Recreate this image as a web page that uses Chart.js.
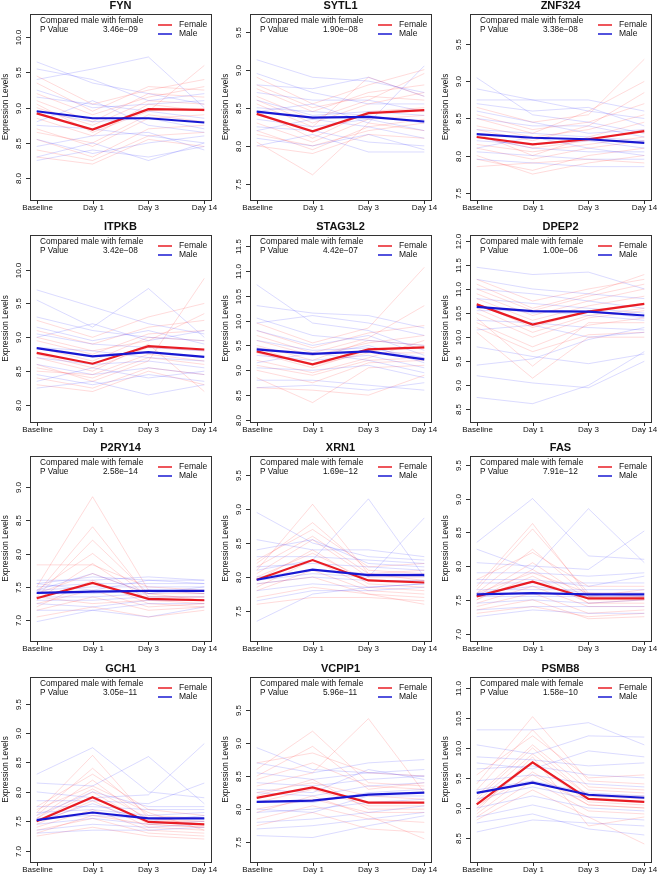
<!DOCTYPE html>
<html>
<head>
<meta charset="utf-8">
<script src="https://cdn.jsdelivr.net/npm/chart.js@4.4.1/dist/chart.umd.min.js"></script>
<style>
  body { margin: 0; background: #fff; width: 660px; height: 878px; position: relative; overflow: hidden; }
  canvas { position: absolute; }
</style>
</head>
<body>
<script>
// ---- data ----
const genes = ['FYN', 'SYTL1', 'ZNF324', 'ITPKB', 'STAG3L2', 'DPEP2', 'P2RY14', 'XRN1', 'FAS', 'GCH1', 'VCPIP1', 'PSMB8'];
const pValues = ['3.46e\u221209', '1.90e\u221208', '3.38e\u221208', '3.42e\u221208', '4.42e\u221207', '1.00e\u221206',
                 '2.58e\u221214', '1.69e\u221212', '7.91e\u221212', '3.05e\u221211', '5.96e\u221211', '1.58e\u221210'];
const dayLabels = ['Baseline', 'Day 1', 'Day 3', 'Day 14'];

const yTicks = [
  [8.0, 8.5, 9.0, 9.5, 10.0],
  [7.5, 8.0, 8.5, 9.0, 9.5],
  [7.5, 8.0, 8.5, 9.0, 9.5],
  [8.0, 8.5, 9.0, 9.5, 10.0],
  [8.0, 8.5, 9.0, 9.5, 10.0, 10.5, 11.0, 11.5],
  [8.5, 9.0, 9.5, 10.0, 10.5, 11.0, 11.5, 12.0],
  [7.0, 7.5, 8.0, 8.5, 9.0],
  [7.5, 8.0, 8.5, 9.0, 9.5],
  [7.0, 7.5, 8.0, 8.5, 9.0, 9.5],
  [7.0, 7.5, 8.0, 8.5, 9.0, 9.5],
  [7.5, 8.0, 8.5, 9.0, 9.5],
  [8.5, 9.0, 9.5, 10.0, 10.5, 11.0]
];
const yRanges = [
  [7.69, 10.33], [7.29, 9.73], [7.40, 9.91],
  [7.75, 10.51], [7.96, 11.72], [8.24, 12.12],
  [6.69, 9.46], [7.06, 9.78], [6.89, 9.63],
  [6.81, 9.95], [7.20, 10.00], [8.10, 11.18]
];

const femaleMean = [
  [8.92, 8.69, 8.98, 8.97], [8.42, 8.19, 8.43, 8.47], [8.25, 8.15, 8.22, 8.33],
  [8.77, 8.61, 8.87, 8.82], [9.38, 9.12, 9.42, 9.46], [10.68, 10.26, 10.53, 10.69],
  [7.33, 7.56, 7.32, 7.30], [7.96, 8.25, 7.95, 7.92], [7.55, 7.77, 7.52, 7.52],
  [7.50, 7.91, 7.49, 7.45], [8.17, 8.33, 8.10, 8.10], [9.06, 9.76, 9.15, 9.10]
];
const maleMean = [
  [8.95, 8.85, 8.85, 8.79], [8.45, 8.37, 8.38, 8.32], [8.29, 8.24, 8.22, 8.17],
  [8.84, 8.72, 8.78, 8.71], [9.42, 9.33, 9.38, 9.22], [10.63, 10.54, 10.53, 10.45],
  [7.41, 7.43, 7.44, 7.44], [7.96, 8.11, 8.03, 8.03], [7.58, 7.60, 7.58, 7.58],
  [7.52, 7.65, 7.55, 7.55], [8.11, 8.13, 8.22, 8.25], [9.25, 9.42, 9.22, 9.17]
];

// individual subjects (a sample of the faint lines)
const femaleLines = [
  [[9.35,8.95,9.30,9.25],[9.10,8.80,9.20,9.15],[8.70,8.45,8.85,8.90],[8.55,8.30,8.70,8.75],[9.20,8.90,9.15,9.30],[8.85,8.60,9.05,8.95],
   [8.40,8.25,8.60,8.65],[9.00,8.75,9.10,9.05],[8.65,8.50,8.90,8.80],[9.45,9.05,9.25,9.40],[8.30,8.20,8.55,8.45],[9.05,8.65,8.95,9.60]],
  [[8.75,8.45,8.70,8.80],[8.60,8.30,8.55,8.70],[8.20,7.95,8.25,8.35],[8.05,7.62,8.30,8.20],[8.90,8.55,8.80,9.00],[8.45,8.10,8.45,8.50],
   [8.30,8.05,8.35,8.40],[8.55,8.25,8.90,8.65],[8.00,7.90,8.15,8.10],[8.65,8.35,8.60,8.95],[8.15,8.00,8.20,8.30],[8.80,8.50,8.65,8.60]],
  [[8.55,8.35,8.45,8.70],[8.40,8.25,8.35,8.55],[8.10,7.95,8.10,8.20],[7.95,7.80,8.00,8.10],[8.65,8.45,8.55,9.30],[8.25,8.10,8.20,8.35],
   [8.00,7.75,7.90,8.00],[8.35,8.20,8.40,8.85],[8.15,8.05,8.15,8.25],[8.50,8.30,8.60,9.00],[7.85,7.90,7.95,7.90],[8.30,8.00,8.25,8.45]],
  [[9.10,8.90,9.15,9.25],[8.95,8.75,9.05,9.10],[8.55,8.40,8.70,8.60],[8.40,8.25,8.55,8.45],[9.25,9.00,9.30,9.50],[8.75,8.55,8.85,8.80],
   [8.60,8.35,8.65,9.87],[8.85,8.65,9.00,8.95],[8.30,8.20,8.50,8.30],[9.00,8.80,8.95,9.35],[8.50,8.45,8.75,8.65],[8.70,8.50,8.90,8.20]],
  [[9.80,9.45,9.75,9.90],[9.60,9.30,9.55,9.70],[9.10,8.90,9.20,9.25],[8.85,8.35,9.05,9.10],[9.95,9.55,9.85,11.07],[9.35,9.05,9.40,9.45],
   [9.20,8.95,9.25,9.60],[9.50,9.20,9.60,9.50],[8.65,8.60,8.50,8.90],[9.70,9.35,9.65,10.30],[9.00,8.75,9.15,9.20],[9.45,9.10,9.35,9.35]],
  [[11.10,10.60,10.90,11.30],[10.90,10.45,10.75,11.00],[10.50,10.00,10.40,10.55],[10.30,9.80,10.25,10.40],[11.20,10.75,11.00,11.20],[10.70,10.20,10.55,10.70],
   [10.40,9.40,10.30,10.30],[10.80,10.35,10.65,10.85],[10.20,9.70,10.05,10.10],[11.00,10.55,10.85,11.10],[10.60,10.10,10.45,10.60],[10.10,9.15,10.00,10.00]],
  [[7.50,8.85,7.45,7.40],[7.40,8.40,7.35,7.35],[7.35,8.20,7.40,7.30],[7.45,8.00,7.35,7.35],[7.30,7.85,7.30,7.25],[7.20,7.60,7.25,7.20],
   [7.83,7.83,7.50,7.45],[7.25,7.45,7.20,7.25],[7.15,7.35,7.15,7.20],[7.40,7.70,7.40,7.40],[7.35,7.25,7.30,7.30],[7.05,7.20,7.05,7.15]],
  [[8.10,9.07,8.05,7.95],[8.20,8.80,8.10,8.05],[8.05,8.55,8.00,8.00],[7.95,8.40,7.90,7.85],[7.85,8.25,7.85,7.80],[8.15,8.60,8.05,8.10],
   [7.80,8.10,7.80,7.75],[7.90,8.00,7.75,7.70],[7.70,7.85,7.75,7.60],[8.00,8.35,7.95,7.95],[7.60,7.70,7.70,7.65],[8.25,8.70,8.15,8.20]],
  [[7.70,8.63,7.55,7.55],[7.65,8.55,7.60,7.60],[7.60,8.25,7.55,7.65],[7.55,8.05,7.50,7.50],[7.50,7.85,7.45,7.45],[7.45,7.70,7.40,7.40],
   [7.40,7.60,7.30,7.35],[7.35,7.50,7.22,7.25],[7.80,8.20,7.70,7.70],[7.60,7.90,7.60,7.55],[7.30,7.40,7.25,7.30],[7.50,7.95,7.45,7.50]],
  [[7.65,8.62,7.55,7.45],[7.60,8.40,7.60,7.55],[7.55,8.20,7.50,7.50],[7.50,8.00,7.45,7.40],[7.45,7.85,7.40,7.35],[7.40,7.70,7.35,7.30],
   [7.35,7.55,7.30,7.25],[7.25,7.40,7.25,7.20],[7.75,8.30,7.70,7.60],[7.55,8.05,7.55,7.50],[7.30,7.60,7.45,7.40],[7.70,8.10,7.65,7.35]],
  [[8.60,9.18,8.40,8.35],[8.45,8.70,8.35,8.30],[8.35,8.55,9.37,8.25],[8.25,8.40,8.20,8.15],[8.10,8.30,8.05,8.05],[8.00,8.15,7.95,7.95],
   [7.85,8.05,7.85,7.80],[7.75,7.95,7.70,7.65],[8.70,8.85,8.55,8.50],[8.50,8.95,8.30,8.40],[7.95,8.20,7.90,7.55],[8.20,8.45,8.00,8.00]],
  [[9.40,10.52,9.45,9.40],[9.30,10.30,9.35,9.30],[9.20,10.05,9.30,9.25],[9.10,9.90,9.20,9.15],[9.00,9.75,9.10,9.05],[8.90,9.60,9.05,9.00],
   [8.85,9.45,8.95,8.90],[8.80,9.30,8.85,8.40],[9.55,10.20,9.50,9.55],[8.95,9.85,8.70,8.85],[9.15,10.00,9.20,9.20],[9.05,9.55,9.05,9.00]]
];
const maleLines = [
  [[9.65,9.35,9.20,9.05],[9.40,9.55,9.72,9.00],[8.25,8.40,8.30,8.45],[9.15,9.05,8.95,8.85],[8.75,8.70,8.60,8.50],[9.55,9.40,9.10,9.20],
   [8.55,8.35,8.50,8.60],[8.95,8.80,8.85,8.70],[9.25,9.00,9.05,9.10],[8.45,8.60,8.65,8.40],[8.80,9.10,8.75,8.65],[8.30,8.50,8.25,8.50]],
  [[9.13,8.90,8.85,8.70],[8.95,8.70,8.55,8.55],[8.70,8.60,8.60,8.45],[8.25,8.20,8.05,8.00],[8.50,8.45,8.40,8.30],[8.00,8.15,7.92,7.92],
   [8.80,8.75,8.90,8.65],[8.35,8.25,8.35,8.20],[8.60,8.40,8.45,8.40],[8.10,8.00,8.15,7.95],[8.45,8.55,8.30,9.05],[8.20,8.35,8.25,8.10]],
  [[9.05,8.55,8.45,8.30],[8.90,8.75,8.60,8.50],[8.70,8.60,8.65,8.40],[8.50,8.40,8.40,8.25],[8.20,8.15,8.20,8.10],[8.05,8.00,7.95,7.95],
   [8.35,8.30,8.25,8.20],[7.95,7.90,7.85,7.85],[8.60,8.45,8.30,8.35],[8.10,8.25,8.10,8.00],[8.75,8.75,8.75,8.60],[8.25,8.10,8.05,8.05]],
  [[9.70,9.45,9.20,9.05],[9.55,9.15,9.72,9.00],[9.30,9.10,9.00,8.95],[8.25,8.35,8.15,8.30],[9.05,8.90,8.85,8.80],[8.60,8.45,8.55,8.45],
   [8.85,8.80,8.70,8.65],[8.45,8.30,8.45,8.35],[9.15,8.95,9.10,8.90],[8.70,8.60,8.65,8.55],[8.35,8.55,8.40,8.50],[9.00,9.20,8.95,9.10]],
  [[10.72,9.95,9.80,9.40],[10.30,10.15,10.10,9.85],[10.05,9.70,9.60,9.50],[9.80,9.50,9.70,9.30],[9.60,9.40,9.45,9.25],[9.30,9.20,9.30,9.05],
   [9.05,9.00,9.10,8.85],[8.80,8.80,8.70,8.60],[9.45,9.30,9.50,9.15],[9.15,9.35,9.20,8.95],[8.65,8.70,8.60,8.75],[9.95,10.10,9.95,9.70]],
  [[11.45,11.30,11.35,11.00],[11.20,11.00,10.90,10.80],[11.00,10.90,10.75,10.60],[10.80,10.70,10.60,10.50],[10.55,10.55,10.45,10.35],[10.35,10.30,10.20,10.15],
   [10.15,10.25,10.00,10.10],[9.80,9.60,9.45,9.65],[9.42,9.55,9.95,10.20],[9.20,9.05,8.95,9.50],[8.75,8.62,9.00,9.70],[10.65,10.50,10.55,10.40]],
  [[7.60,7.60,7.65,7.60],[7.55,7.65,7.60,7.60],[7.50,7.55,7.55,7.55],[7.45,7.50,7.50,7.50],[7.40,7.40,7.45,7.40],[7.35,7.35,7.40,7.45],
   [7.30,7.30,7.35,7.35],[7.25,7.20,7.30,7.30],[7.15,7.15,7.25,7.25],[6.98,7.15,7.05,7.20],[7.55,7.45,7.60,7.55],[7.45,7.70,7.40,7.50]],
  [[8.95,8.50,8.30,8.25],[8.55,8.40,8.40,8.30],[8.30,8.30,8.25,8.20],[8.15,8.20,8.15,8.10],[8.00,8.10,8.05,8.05],[7.90,8.00,7.95,7.95],
   [7.80,7.90,7.85,7.90],[7.65,7.80,7.80,7.85],[7.35,7.75,7.85,7.90],[8.10,8.25,9.15,8.00],[7.95,8.05,8.00,8.87],[8.40,8.55,8.20,8.15]],
  [[8.35,9.00,8.15,8.10],[8.25,7.95,8.85,8.05],[8.05,8.00,7.95,8.52],[7.90,7.90,7.85,7.90],[7.75,7.75,7.75,7.75],[7.65,7.65,7.65,7.65],
   [7.55,7.55,7.55,7.55],[7.45,7.50,7.45,7.50],[7.35,7.40,7.40,7.40],[7.25,7.35,7.30,7.30],[7.80,7.80,7.70,7.85],[7.60,7.70,7.60,7.60]],
  [[8.30,8.75,8.00,7.90],[8.15,8.10,8.60,7.80],[8.00,7.90,7.95,8.82],[7.85,7.85,7.80,8.15],[7.75,7.75,7.70,7.70],[7.65,7.70,7.60,7.65],
   [7.55,7.60,7.55,7.55],[7.45,7.55,7.45,7.50],[7.35,7.45,7.40,7.45],[7.30,7.35,7.35,7.40],[7.60,8.00,7.75,7.75],[7.50,7.80,7.50,7.60]],
  [[8.93,8.60,8.55,8.50],[8.70,8.55,8.70,8.75],[8.55,8.45,8.55,8.60],[8.40,8.35,8.45,8.50],[8.25,8.20,8.35,8.40],[8.10,8.10,8.25,8.30],
   [7.95,8.00,8.10,8.15],[7.80,7.85,7.95,8.05],[7.60,7.57,7.75,7.90],[7.70,7.75,7.85,7.95],[8.30,8.25,8.60,8.45],[8.00,7.95,8.20,8.20]],
  [[10.30,10.30,10.42,10.05],[10.05,9.90,10.20,10.18],[9.85,9.80,9.70,9.75],[9.65,9.70,9.55,9.50],[9.45,9.55,9.40,9.35],[9.30,9.45,9.25,9.20],
   [9.15,9.35,9.15,9.10],[9.00,9.20,9.00,8.95],[8.85,9.05,8.85,8.80],[8.60,8.80,8.75,8.70],[9.75,9.65,9.95,9.85],[8.75,8.90,8.65,8.55]]
];

// ---- layout ----
const colLeft = [0, 220, 440];
const rowTop = [0, 220, 440, 660];
const padTop = [14, 15, 16, 17];
const padBottom = [18, 16, 17, 16];
const FONT = '"Liberation Sans", Arial, Helvetica, sans-serif';
const RED = 'rgb(232, 28, 36)';
const BLUE = 'rgb(24, 24, 210)';

function toPoints(vals) {
  return vals.map((v, i) => ({ x: i + 1, y: v }));
}

// box, axes, labels and the little legend, drawn the R way
const panelDeco = {
  id: 'panelDeco',
  afterDraw(chart, args, opts) {
    const ctx = chart.ctx;
    const a = chart.chartArea;
    const xs = chart.scales.x, ys = chart.scales.y;
    const k = opts.panel;
    ctx.save();
    ctx.strokeStyle = '#333';
    ctx.lineWidth = 1;
    ctx.strokeRect(Math.round(a.left) + 0.5, Math.round(a.top) + 0.5, Math.round(a.right - a.left), Math.round(a.bottom - a.top));

    ctx.fillStyle = '#111';
    ctx.font = '8px ' + FONT;
    ctx.textAlign = 'center';
    ctx.textBaseline = 'middle';
    dayLabels.forEach(function (lab, i) {
      const px = Math.round(xs.getPixelForValue(i + 1)) + 0.5;
      ctx.beginPath();
      ctx.moveTo(px, a.bottom);
      ctx.lineTo(px, a.bottom + 4);
      ctx.stroke();
      ctx.fillText(lab, px, a.bottom + 8);
    });
    yTicks[k].forEach(function (t) {
      const py = Math.round(ys.getPixelForValue(t)) + 0.5;
      ctx.beginPath();
      ctx.moveTo(a.left, py);
      ctx.lineTo(a.left - 4, py);
      ctx.stroke();
      ctx.save();
      ctx.translate(a.left - 11.5, py);
      ctx.rotate(-Math.PI / 2);
      ctx.fillText(t.toFixed(1), 0, 0);
      ctx.restore();
    });

    // y axis title
    ctx.save();
    ctx.font = '8.2px ' + FONT;
    ctx.translate(5.5, (a.top + a.bottom) / 2);
    ctx.rotate(-Math.PI / 2);
    ctx.fillText('Expression Levels', 0, 0);
    ctx.restore();

    // gene name
    ctx.font = 'bold 11px ' + FONT;
    ctx.fillText(genes[k], (a.left + a.right) / 2, a.top - 8);

    // comparison text
    ctx.textAlign = 'left';
    ctx.font = '8.3px ' + FONT;
    ctx.fillText('Compared male with female', a.left + 10, a.top + 7);
    ctx.fillText('P Value', a.left + 10, a.top + 16);
    ctx.fillText(pValues[k], a.left + 73, a.top + 16);

    // legend
    ctx.font = '8.5px ' + FONT;
    [['Female', RED, 11], ['Male', BLUE, 20]].forEach(function (it) {
      ctx.strokeStyle = it[1];
      ctx.lineWidth = 1.5;
      ctx.beginPath();
      ctx.moveTo(a.left + 128, a.top + it[2]);
      ctx.lineTo(a.left + 142, a.top + it[2]);
      ctx.stroke();
      ctx.fillText(it[0], a.left + 149, a.top + it[2]);
    });
    ctx.restore();
  }
};

genes.forEach(function (g, k) {
  const row = Math.floor(k / 3), col = k % 3;
  const cv = document.createElement('canvas');
  cv.width = 220;
  cv.height = 218;
  cv.style.left = colLeft[col] + 'px';
  cv.style.top = rowTop[row] + 'px';
  document.body.appendChild(cv);

  const datasets = [];
  datasets.push({ data: toPoints(maleMean[k]), borderColor: BLUE, borderWidth: 2.2, order: 0 });
  datasets.push({ data: toPoints(femaleMean[k]), borderColor: RED, borderWidth: 2.2, order: 1 });
  maleLines[k].forEach(function (l) {
    datasets.push({ data: toPoints(l), borderColor: 'rgba(40, 40, 255, 0.17)', borderWidth: 1, order: 2 });
  });
  femaleLines[k].forEach(function (l) {
    datasets.push({ data: toPoints(l), borderColor: 'rgba(255, 40, 40, 0.17)', borderWidth: 1, order: 3 });
  });

  new Chart(cv, {
    type: 'line',
    data: { datasets: datasets },
    options: {
      responsive: false,
      animation: false,
      devicePixelRatio: 1,
      layout: { padding: { left: 30, right: 9, top: padTop[row], bottom: padBottom[row] } },
      elements: { point: { radius: 0 }, line: { tension: 0, fill: false } },
      plugins: { legend: { display: false }, tooltip: { enabled: false }, panelDeco: { panel: k } },
      scales: {
        x: { type: 'linear', min: 0.88, max: 4.12, display: false },
        y: { type: 'linear', min: yRanges[k][0], max: yRanges[k][1], display: false }
      }
    },
    plugins: [panelDeco]
  });
});
</script>
</body>
</html>
